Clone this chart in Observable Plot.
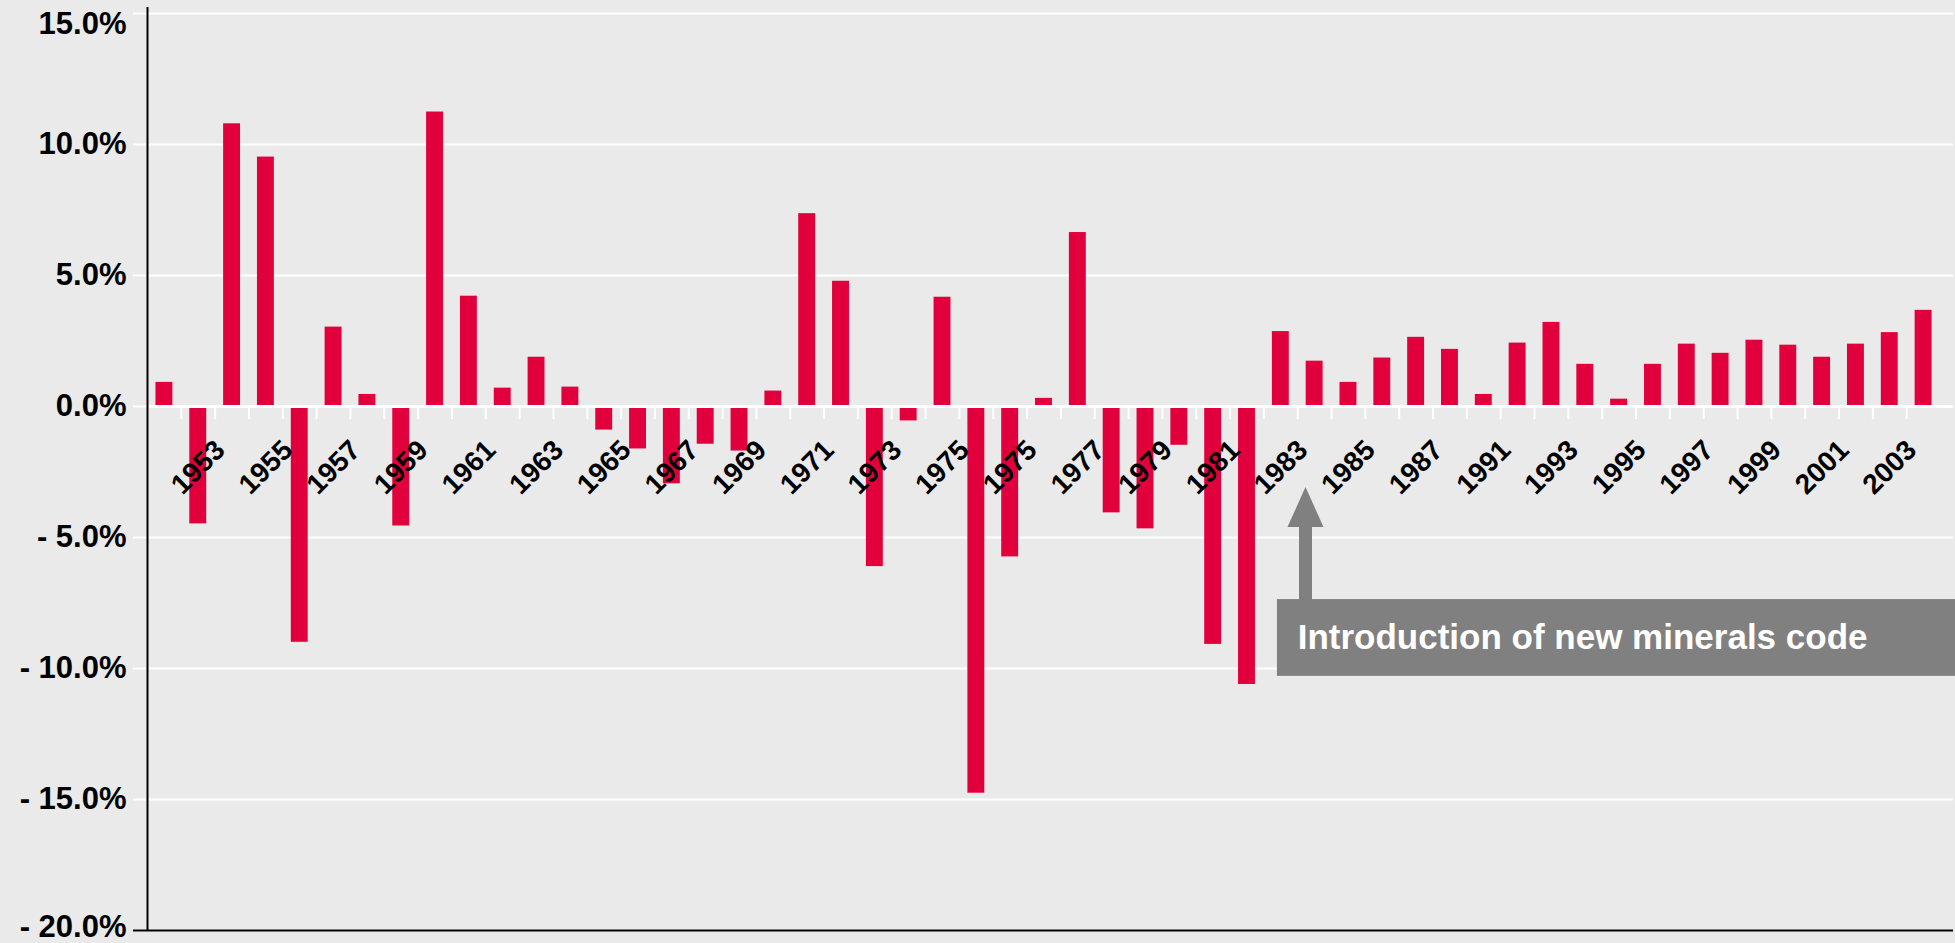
<!DOCTYPE html>
<html>
<head>
<meta charset="utf-8">
<script src="https://cdn.jsdelivr.net/npm/d3@7"></script>
<script src="https://cdn.jsdelivr.net/npm/@observablehq/plot@0.6"></script>
<style>
html, body { margin: 0; padding: 0; background: #EAEAEA; overflow: hidden; }
#chart svg { display: block; }
</style>
</head>
<body>
<div id="chart"></div>
<script>
// Annual change (%) — one value per bar, left to right
const values = [
  0.92, -4.48, 10.79, 9.52, -9.0, 3.03, 0.46, -4.56, 11.24, 4.21,
  0.70, 1.88, 0.74, -0.90, -1.62, -2.95, -1.44, -1.70, 0.59, 7.36,
  4.78, -6.11, -0.55, 4.17, -14.76, -5.74, 0.31, 6.64, -4.06, -4.67,
  -1.48, -9.08, -10.61, 2.86, 1.73, 0.92, 1.85, 2.64, 2.18, 0.46,
  2.42, 3.21, 1.61, 0.28, 1.61, 2.38, 2.03, 2.53, 2.34, 1.88,
  2.38, 2.82, 3.67
];
// Category labels shown under every second bar (as printed on the original)
const tickLabels = [
  "1953", "1955", "1957", "1959", "1961", "1963", "1965", "1967", "1969",
  "1971", "1973", "1975", "1975", "1977", "1979", "1981", "1983", "1985",
  "1987", "1991", "1993", "1995", "1997", "1999", "2001", "2003"
];
const yTicks = [15, 10, 5, 0, -5, -10, -15, -20];
const noteText = ["Introduction of new minerals code"];

const bars = values.map((v, i) => ({ i, v }));
const labelled = tickLabels.map((t, k) => ({ i: 2 * k + 1, t }));
const gaps = d3.range(values.length - 1);

const font = "'Liberation Sans', Arial, Helvetica, sans-serif";
const fmt = d => (d < 0 ? "- " : "") + Math.abs(d).toFixed(1) + "%";
const red = "#E2003C";
const grey = "#808080";
const yText = { anchor: "left", tickSize: 0, tickPadding: 21, fill: "black", tickFormat: fmt,
                fontSize: 31, fontWeight: "bold", label: null };

const chart = Plot.plot({
  width: 1955,
  height: 943,
  marginLeft: 147,
  marginRight: 15,
  marginTop: 13,
  marginBottom: 13,
  style: { background: "#EAEAEA", fontFamily: font, color: "black" },
  x: { type: "linear", domain: [-0.5, values.length - 0.5], axis: null },
  y: { domain: [-20, 15], axis: null },
  marks: [
    Plot.ruleY(yTicks.filter(t => t > -20), { stroke: "white", strokeWidth: 2, insetRight: -13 }),
    Plot.axisY(yTicks, { anchor: "left", tickSize: 14, stroke: "white", strokeWidth: 2, fill: "none", label: null }),
    Plot.axisY(yTicks.filter(t => t < 15 && t > -20), yText),
    Plot.axisY(yTicks.filter(t => t === 15), { ...yText, dy: 11 }),
    Plot.axisY(yTicks.filter(t => t === -20), { ...yText, dy: -3 }),
    Plot.rectY(bars, { x1: d => d.i - 0.25, x2: d => d.i + 0.25, y: "v", fill: red }),
    Plot.ruleY([0], { stroke: "white", strokeWidth: 3, insetRight: -13 }),
    Plot.ruleX(gaps, { x: d => d + 0.5, y1: () => 0, y2: () => -0.5, stroke: "white", strokeWidth: 2 }),
    Plot.ruleY([-20], { stroke: "black", strokeWidth: 2, insetLeft: -14, insetRight: -13 }),
    Plot.ruleX([-0.5], { stroke: "black", strokeWidth: 2, insetTop: -6 }),
    Plot.text(labelled, {
      x: "i", y: () => 0, text: "t", rotate: -45, dy: 61,
      fontSize: 28, fontWeight: "bold", fill: "black"
    }),
    // annotation
    Plot.rect(noteText, { x1: () => 32.9, x2: () => 53.2, y1: () => -10.3, y2: () => -7.37, fill: grey }),
    Plot.text(noteText, {
      x: () => 33.5, y: () => -8.84, text: d => d, textAnchor: "start",
      fill: "white", fontSize: 35, fontWeight: "bold"
    }),
    Plot.ruleX(noteText, { x: () => 33.73, y1: () => -7.4, y2: () => -4.55, stroke: grey, strokeWidth: 13 }),
    Plot.vector(noteText, {
      x: () => 33.73, y: () => -4.6, length: 40, r: 18, shape: "spike",
      anchor: "start", fill: grey, stroke: "none"
    })
  ]
});
document.getElementById("chart").appendChild(chart);
</script>
</body>
</html>
